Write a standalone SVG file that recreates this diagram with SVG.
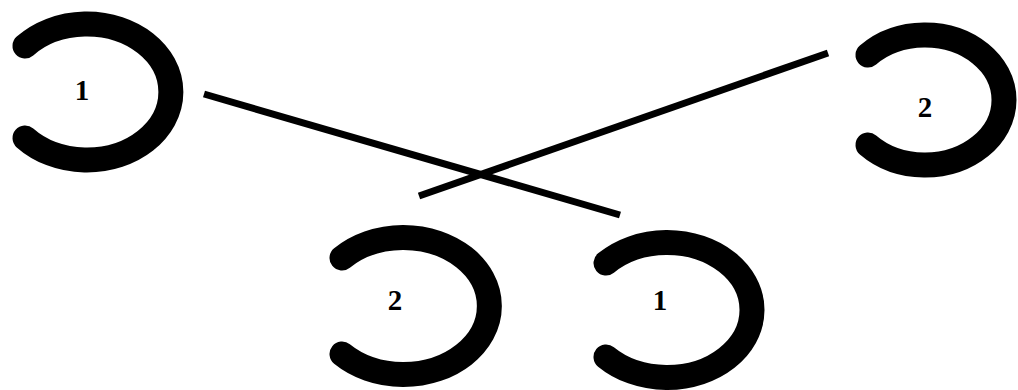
<svg xmlns="http://www.w3.org/2000/svg" width="1018" height="390" viewBox="0 0 1018 390">
<style>
.arc{fill:none;stroke:#000;stroke-width:25;stroke-linecap:round}
.lbl{font-family:"Liberation Serif","Times New Roman",serif;font-weight:bold;font-size:29px;fill:#000;text-anchor:middle}
.conn{stroke:#000;stroke-width:7;fill:none}
</style>
<rect width="1018" height="390" fill="#fff"/>
<g id="node-1a">
<path class="arc" d="M25,46 A84,68 0 1 1 25,138"/>
<text class="lbl" x="82" y="100">1</text>
</g>
<g id="node-2a">
<path class="arc" d="M868,55 A79,65 0 1 1 868,145"/>
<text class="lbl" x="925" y="117">2</text>
</g>
<g id="node-2b">
<path class="arc" d="M342,258 A86,68.5 0 1 1 342,354"/>
<text class="lbl" x="395" y="310">2</text>
</g>
<g id="node-1b">
<path class="arc" d="M606,263 A85,67.5 0 1 1 606,357"/>
<text class="lbl" x="660" y="310">1</text>
</g>
<g id="connectors">
<line class="conn" x1="204" y1="94" x2="620" y2="215"/>
<line class="conn" x1="419" y1="196" x2="828" y2="53"/>
</g>
</svg>
